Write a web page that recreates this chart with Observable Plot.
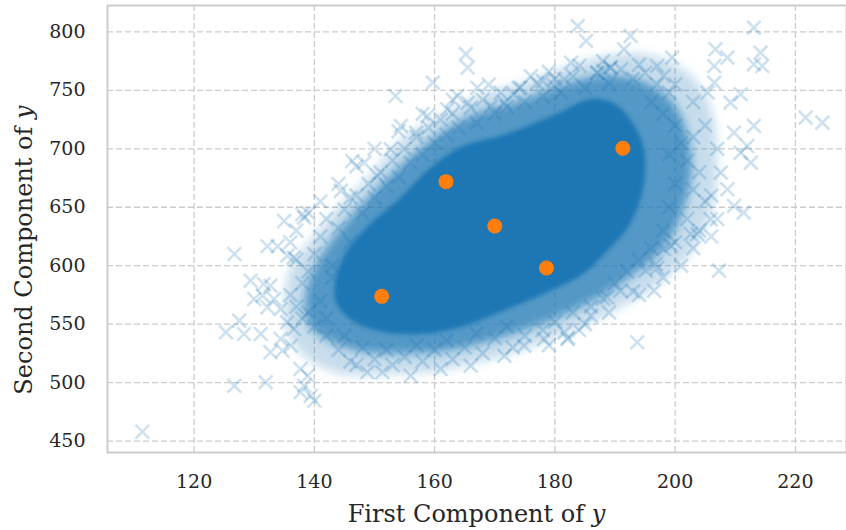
<!DOCTYPE html>
<html><head><meta charset="utf-8">
<script src="https://cdn.jsdelivr.net/npm/d3@7"></script>
<script src="https://cdn.jsdelivr.net/npm/@observablehq/plot@0.6"></script>
<style>body{margin:0;background:#fff;}</style>
</head><body><div id="chart"></div>
<script>
// ---- data ----
const xTicks = [120, 140, 160, 180, 200, 220];
const yTicks = [450, 500, 550, 600, 650, 700, 750, 800];
const xDomain = [105.6, 228.5];
const yDomain = [440.2, 822.6];
const xLabel = "First Component of ";
const yLabel = "Second Component of ";
const labelVar = "y";

// orange points
const centerX = [151.2, 161.9, 170.0, 178.6, 191.3];
const centerY = [573.8, 671.9, 634.0, 598.0, 700.5];

// outline of the saturated core of the sample cloud
const coreOutline = [[143.4,578.4],[145,608.3],[149,634],[154,656],[159,682],[164.3,701],[171.8,712],[180.1,729],[185.9,742],[190,738],[193,721],[194.8,698.2],[194.5,663.9],[192.2,634],[188.6,612.6],[184.8,593.8],[178.8,578],[171,561],[164.3,548],[157.6,542],[151.8,543.5],[146.6,552.5],[144,565.5]];
// outline of the dense (textured) zone
const midOutline = [[138.5,569.8],[140.2,599.8],[143.5,625.4],[147.7,651.1],[153.5,681.1],[159.3,706.7],[166,728.1],[174.3,741],[181,753.8],[187.6,762.3],[194.3,758.1],[199.3,741],[201.8,715.3],[202.6,681.1],[200.9,642.5],[197.6,612.6],[192.6,591.2],[187.6,574.1],[180.9,557],[174.3,544.1],[167.6,533.9],[161,527],[154.3,525.3],[147.7,527],[142.7,535.6],[139.4,548.4]];
// outline of the sparse fringe
const outerOutline = [[135.2,561.3],[136,595.5],[139.4,621.2],[144.3,651.1],[149.3,676.8],[154.3,706.7],[161,728.1],[167.6,745.2],[176,758.1],[182.6,770.9],[189.3,779.5],[195.9,779.5],[202.6,762.3],[205.9,732.4],[206.8,689.6],[205.9,646.8],[202.6,612.6],[197.6,586.9],[191,565.5],[184.3,548.4],[176,531.3],[167.6,518.5],[159.3,509.9],[151,508.2],[144.3,508.2],[138.5,522.7],[136,539.9]];

// individual samples visible as separate crosses
const samples = [
[111.4,458],[126.7,610],[132.2,616.6],[133.9,616.6],[135.5,608.6],[136.6,607],[129.4,587.2],[131.6,584.4],[132.7,582.9],[130,571.5],[131.4,574.4],[133.3,571.5],[132.2,564.4],[134.4,563],[127.5,553],[128.3,541.6],[125.3,543],[131.1,541.6],[132.7,526],[134.7,527.3],[126.7,497.3],[131.9,500.3],[137.7,511.6],[138.9,505.9],[137.7,491.7],[139.4,488.8],[140,484.5],[138.3,497.3],[136.6,545.9],[135.5,551.6],[134.4,537.3],[136.1,531.6],
[135,638.3],[138.3,641.1],[138,644],[144.4,664],[146.3,689.6],[146,658.2],
[183.8,805],[185.2,792.3],[165.2,781],[165.5,769.5],[153.5,745.2],[159.7,756.6],[167.1,752.3],[182.7,773.7],[184.1,771],[178,758],[174.3,752.3],[173.2,746.7],[154.4,719.6],[156.9,713.8],[158.8,728.1],[148.3,688.2],[150.5,676.8],[152.7,699.6],[163.8,745.2],[165.5,739.5],[162.1,733.8],[169.4,736.7],[171.6,739.5],[179.9,753.8],[181.6,759.5],[187.1,765.2],
[213.1,803.7],[214.2,782.3],[213.1,772.4],[214.5,770.9],[206.7,785.2],[208.7,778],[206.5,770.9],[221.7,726.7],[224.5,722.4],[192.6,796.6],[191.5,785.2],[199.5,778],[197,770.9],[198.1,762.3],[189.3,769.5],[210.9,746.7],[209.2,739.5],[213.1,719.6],[212,702.4],[212.6,688.2],[209.8,713.8],[210.9,696.7],[207.6,679.6],[208.7,665.4],[205.9,639.7],[211.4,645.4],[209.8,651.1],[206.5,756.6],[205.4,748.1],
[207.3,595.8],[196.5,578.6],[190.9,578.6],[188.7,573],[193.7,534.5],[195.1,595.8],[196.8,601.5],[202.6,627.1],[203.7,627.1],[198.1,614.3],[199.3,617.2],
[148.8,508.8],[151.3,508.8],[156,505.9],[161,511.6],[166,514.4],[171.6,523],[174.9,531.6],[182.1,537.3],[186,557.2],[181.6,543],[178.2,537.3],[182.2,538.4],[188.1,766.6],[189.2,769.5]
];
// samples in the textured fringe around the core
const fringe = [
[140,610],[141,625],[142,640],[143,600],[144,632],[145,648],[146,620],[147,660],[148,645],[149,670],[150,658],[151,680],[152,668],[153,690],[154,676],[155,700],[156,688],[157,710],[158,695],[159,718],[160,705],[161,725],[162,712],[163,730],[164,718],[166,735],[167,722],[168,742],[170,730],[171,748],[172,736],[174,752],[175,740],[177,756],[178,745],[180,760],[181,748],[183,762],[185,752],[187,765],[189,756],[191,768],[193,760],[195,765],[197,755],[199,748],
[196,740],[198,730],[200,720],[201,705],[203,710],[199,695],[202,690],[204,680],[200,670],[203,665],[205,655],[199,650],[202,640],[204,630],[198,630],[200,620],[196,615],[194,605],[197,598],[192,595],[190,585],[193,578],[188,572],[186,565],[183,560],[185,550],[180,552],[178,545],[175,540],[172,548],[170,538],[167,542],[165,530],[162,536],[160,528],[157,532],[155,522],[152,528],[150,520],[148,530],[146,518],[144,528],[142,540],[140,548],[138,555],[137,565],[136,575],[138,585],[139,595],[137,605],
[143,590],[141,570],[139,560],[142,555],[145,540],[147,515],[153,515],[158,518],[163,520],[168,525],[173,530],[179,532],[184,545],[189,560],[194,575],[198,590],[201,600],[203,615],[206,625],[207,640],[206,660],[207,700],[205,720],[203,740],[200,755],[194,772],[188,775],[179,766],[176,762],[169,755],[163,742],[158,730],[154,715],[150,700],[147,685],[144,670],[141,655],[139,645],[137,630],[136,620]
];

// ---- chart ----
const blue = "#1f77b4", orange = "#ff7f0e", gridColor = "#cccccc";
const centers = centerX.map((x, i) => ({x, y: centerY[i]}));
const poly = a => a.map(([x, y]) => ({x, y}));
const pts = samples.concat(fringe).map(([x, y]) => ({x, y}));

const plot = Plot.plot({
  width: 846, height: 530,
  marginLeft: 107, marginRight: 0, marginTop: 5, marginBottom: 78,
  style: {fontFamily: "'DejaVu Serif', serif", fontSize: "19px", color: "#262626", background: "#ffffff"},
  x: {domain: xDomain, ticks: xTicks, tickSize: 0, tickPadding: 22, label: null},
  y: {domain: yDomain, ticks: yTicks, tickSize: 0, tickPadding: 22, label: null},
  marks: [
    Plot.ruleX(xTicks, {stroke: gridColor, strokeOpacity: 1, strokeWidth: 1.3, strokeDasharray: "6,3"}),
    Plot.ruleY(yTicks, {stroke: gridColor, strokeOpacity: 1, strokeWidth: 1.3, strokeDasharray: "6,3"}),
    Plot.line(poly(outerOutline), {x: "x", y: "y", fill: blue, fillOpacity: 0.25, stroke: blue, strokeOpacity: 0.25, strokeWidth: 1, curve: "catmull-rom-closed"}),
    Plot.line(poly(midOutline), {x: "x", y: "y", fill: blue, fillOpacity: 0.68, stroke: blue, strokeOpacity: 0.68, strokeWidth: 1, curve: "catmull-rom-closed"}),
    Plot.line(poly(coreOutline), {x: "x", y: "y", fill: blue, fillOpacity: 1, stroke: blue, strokeOpacity: 1, strokeWidth: 1, curve: "catmull-rom-closed"}),
    Plot.dot(pts, {x: "x", y: "y", symbol: "times", r: 6.3, stroke: blue, strokeOpacity: 0.22, strokeWidth: 2.6, clip: true}),
    Plot.dot(centers, {x: "x", y: "y", r: 7.5, fill: orange, stroke: "none"}),
    Plot.frame({stroke: gridColor, strokeWidth: 2})
  ]
});
document.getElementById("chart").appendChild(plot);

const svg = d3.select(plot);

// soften the edges of the density zones
const defs = svg.insert("defs", ":first-child");
function blur(id, sd) {
  defs.append("filter").attr("id", id)
    .attr("filterUnits", "userSpaceOnUse").attr("x", 0).attr("y", 0).attr("width", 846).attr("height", 530)
    .append("feGaussianBlur").attr("stdDeviation", sd);
}
blur("softA", 5);
blur("softB", 2);
svg.selectAll("g").filter(function () {
  return this.getAttribute("fill") === blue && this.querySelector("path");
}).each(function () {
  const op = +(this.getAttribute("fill-opacity") || 1);
  d3.select(this).attr("filter", op < 1 ? "url(#softA)" : "url(#softB)");
});

// axis labels with italic variable
const xr = plot.scale("x").range;
const xl = svg.append("text").attr("x", (xr[0] + xr[1]) / 2).attr("y", 522)
  .attr("text-anchor", "middle").attr("fill", "#262626").style("font-size", "24px");
xl.append("tspan").text(xLabel);
xl.append("tspan").attr("font-style", "italic").text(labelVar);
const yl = svg.append("text").attr("transform", `translate(32,${250}) rotate(-90)`)
  .attr("text-anchor", "middle").attr("fill", "#262626").style("font-size", "24px");
yl.append("tspan").text(yLabel);
yl.append("tspan").attr("font-style", "italic").text(labelVar);
</script></body></html>
